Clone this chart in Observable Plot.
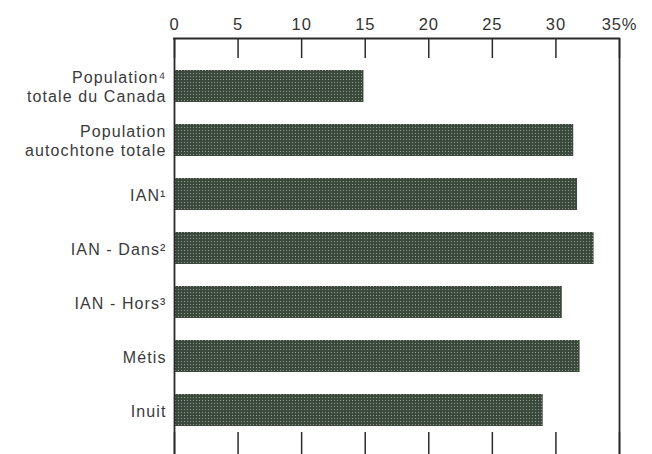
<!DOCTYPE html>
<html>
<head>
<meta charset="utf-8">
<script src="https://cdn.jsdelivr.net/npm/d3@7"></script>
<script src="https://cdn.jsdelivr.net/npm/@observablehq/plot@0.6"></script>
<style>
  html, body { margin: 0; padding: 0; background: #ffffff; overflow: hidden; }
  #chart { font-family: "Liberation Sans", Arial, sans-serif; }
  #chart svg g[aria-label="y-axis tick label"] text { letter-spacing: 1.1px; }
  #chart svg g[aria-label="x-axis tick label"] text { letter-spacing: 0.9px; }
</style>
</head>
<body>
<div id="chart"></div>
<script>
const categories = [
  "Population⁴\ntotale du Canada",
  "Population\nautochtone totale",
  "IAN¹",
  "IAN - Dans²",
  "IAN - Hors³",
  "Métis",
  "Inuit"
];
const values = [14.9, 31.4, 31.7, 33.0, 30.5, 31.9, 29.0];
const xTicks = [0, 5, 10, 15, 20, 25, 30, 35];
const xTickLabels = ["0", "5", "10", "15", "20", "25", "30", "35%"];

const data = categories.map((c, i) => ({category: c, value: values[i]}));

const H = 460, MT = 38, MB = 0;
const inner = H - MT - MB;

const chart = Plot.plot({
  width: 652,
  height: H,
  marginTop: MT,
  marginBottom: MB,
  marginLeft: 174,
  marginRight: 33,
  style: {fontFamily: "Liberation Sans, Arial, sans-serif", color: "#333", background: "#ffffff"},
  x: {domain: [0, 35], label: null},
  y: {domain: categories, range: [59, 438], paddingInner: 0.4, paddingOuter: 0.2, label: null},
  marks: [
    Plot.barX(data, {y: "category", x: "value", fill: "url(#dots)"}),
    Plot.ruleX([0, 35], {stroke: "#2a2a2a", strokeWidth: 1.8}),
    Plot.ruleX(xTicks, {stroke: "#2a2a2a", strokeWidth: 1.5, insetBottom: inner - 20}),
    Plot.ruleX(xTicks, {stroke: "#2a2a2a", strokeWidth: 1.5, insetTop: inner - 28}),
    Plot.axisX({anchor: "top", ticks: xTicks, tickSize: 0, tickPadding: 9, label: null,
      tickFormat: (d) => xTickLabels[xTicks.indexOf(d)], fontSize: 16.5, fill: "#333"}),
    Plot.axisY({anchor: "left", tickSize: 0, tickPadding: 8, label: null,
      fontSize: 16, lineHeight: 1.2, fill: "#3a3a3a"})
  ]
});

const svg = chart.tagName.toLowerCase() === "svg" ? chart : chart.querySelector("svg");
const defs = document.createElementNS("http://www.w3.org/2000/svg", "defs");
defs.innerHTML = `
  <pattern id="dots" width="3" height="3" patternUnits="userSpaceOnUse">
    <rect width="3" height="3" fill="#3b493c"></rect>
    <rect x="1" y="1" width="1" height="1" fill="#8e9b8c"></rect>
  </pattern>`;
svg.insertBefore(defs, svg.firstChild);
document.getElementById("chart").appendChild(chart);

const xs = chart.scale("x");
const topLine = document.createElementNS("http://www.w3.org/2000/svg", "line");
topLine.setAttribute("x1", xs.apply(0) - 0.9);
topLine.setAttribute("x2", xs.apply(35) + 0.9);
topLine.setAttribute("y1", MT + 0.5);
topLine.setAttribute("y2", MT + 0.5);
topLine.setAttribute("stroke", "#2a2a2a");
topLine.setAttribute("stroke-width", "1.8");
svg.appendChild(topLine);
</script>
</body>
</html>
